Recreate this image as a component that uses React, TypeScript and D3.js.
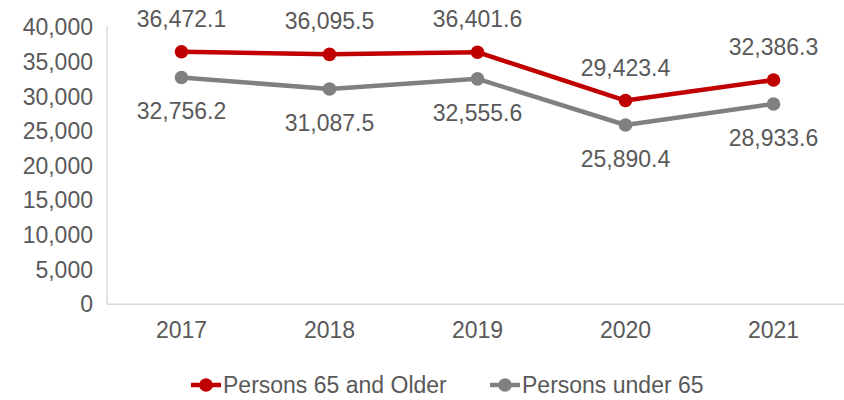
import React from "react";
import * as d3 from "d3";

const years = ["2017", "2018", "2019", "2020", "2021"];
const olderValues = [36472.1, 36095.5, 36401.6, 29423.4, 32386.3];
const underValues = [32756.2, 31087.5, 32555.6, 25890.4, 28933.6];
const yTicks = [0, 5000, 10000, 15000, 20000, 25000, 30000, 35000, 40000];
const seriesNames = ["Persons 65 and Older", "Persons under 65"];

const W = 844;
const H = 400;
const FONT = "'Liberation Sans', Arial, sans-serif";
const TEXT = "#595959";
const RED = "#C00000";
const GRAY = "#808080";

export default function App() {
  const x = d3.scaleBand<string>().domain(years).range([107.5, 847.5]);
  const y = d3.scaleLinear().domain([0, 40000]).range([304.3, 27.3]);
  const cx = (yr: string) => (x(yr) as number) + x.bandwidth() / 2;
  const line = d3
    .line<number>()
    .x((_, i) => cx(years[i]))
    .y((d) => y(d));
  const fmt = d3.format(",.1f");
  const tickFmt = d3.format(",");

  const series = [
    { name: seriesNames[1], values: underValues, color: GRAY, labelDy: 42 },
    { name: seriesNames[0], values: olderValues, color: RED, labelDy: -25 },
  ];

  return (
    <svg
      width={W}
      height={H}
      style={{ position: "absolute", left: 0, top: 0, background: "#fff" }}
      fontFamily={FONT}
    >
      {/* axes */}
      <line x1={107} x2={107} y1={y(40000) - 1} y2={y(0)} stroke="#d9d9d9" strokeWidth={1.5} />
      <line x1={107} x2={W} y1={y(0)} y2={y(0)} stroke="#d9d9d9" strokeWidth={1.5} />
      {yTicks.map((t) => (
        <text key={t} x={93} y={y(t) + 8} textAnchor="end" fontSize={23} fill={TEXT}>
          {tickFmt(t)}
        </text>
      ))}
      {years.map((yr) => (
        <text key={yr} x={cx(yr)} y={338} textAnchor="middle" fontSize={23} fill={TEXT}>
          {yr}
        </text>
      ))}
      {series.map((s) => (
        <g key={s.name}>
          <path d={line(s.values) || ""} fill="none" stroke={s.color} strokeWidth={4.5} strokeLinejoin="round" />
          {s.values.map((v, i) => (
            <circle key={i} cx={cx(years[i])} cy={y(v)} r={6.8} fill={s.color} />
          ))}
          {s.values.map((v, i) => (
            <text
              key={"l" + i}
              x={cx(years[i])}
              y={y(v) + s.labelDy}
              textAnchor="middle"
              fontSize={23}
              fill={TEXT}
            >
              {fmt(v)}
            </text>
          ))}
        </g>
      ))}
      {/* legend */}
      {[
        { name: seriesNames[0], color: RED, x0: 191 },
        { name: seriesNames[1], color: GRAY, x0: 490 },
      ].map((l) => (
        <g key={l.name}>
          <line x1={l.x0} x2={l.x0 + 30} y1={385} y2={385} stroke={l.color} strokeWidth={4.5} />
          <circle cx={l.x0 + 15} cy={385} r={6.8} fill={l.color} />
          <text x={l.x0 + 32} y={393} fontSize={23} fill={TEXT}>
            {l.name}
          </text>
        </g>
      ))}
    </svg>
  );
}
